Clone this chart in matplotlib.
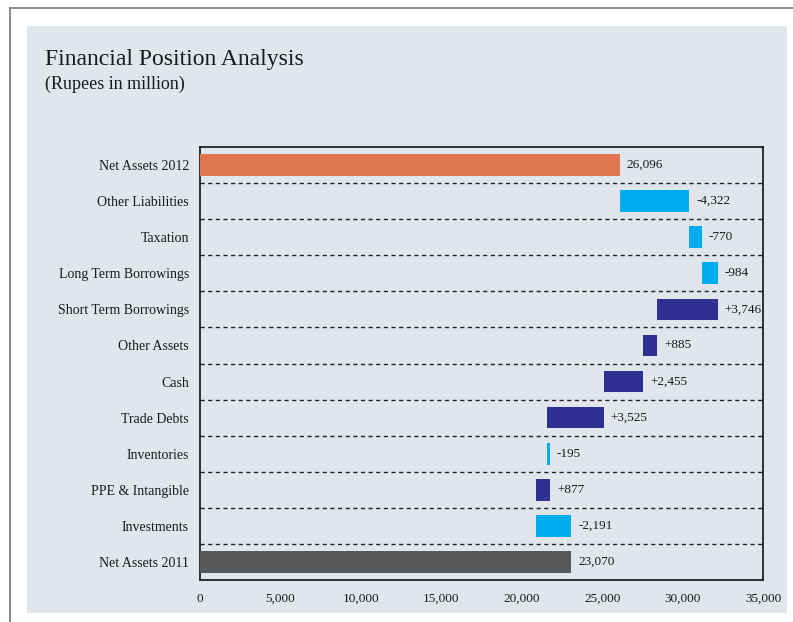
import matplotlib
matplotlib.use("Agg")
import matplotlib.pyplot as plt
from matplotlib.patches import Rectangle
from matplotlib.lines import Line2D
import numpy as np

categories = ["Net Assets 2011", "Investments", "PPE & Intangible", "Inventories",
              "Trade Debts", "Cash", "Other Assets", "Short Term Borrowings",
              "Long Term Borrowings", "Taxation", "Other Liabilities", "Net Assets 2012"]
changes = [23070, -2191, 877, -195, 3525, 2455, 885, 3746, -984, -770, -4322, 26096]
labels = ["23,070", "-2,191", "+877", "-195", "+3,525", "+2,455", "+885", "+3,746",
          "-984", "-770", "-4,322", "26,096"]
xticks = [0, 5000, 10000, 15000, 20000, 25000, 30000, 35000]
xticklabels = ["0", "5,000", "10,000", "15,000", "20,000", "25,000", "30,000", "35,000"]

W, H = 793, 622
fig = plt.figure(figsize=(W / 100, H / 100), dpi=100)
fig.patch.set_facecolor("white")
plt.rcParams["font.family"] = ["Liberation Serif", "DejaVu Serif"]

# outer frame lines
fig.add_artist(Line2D([10 / W, 10 / W], [0, 1 - 8 / H], transform=fig.transFigure, color="#777777", lw=1.2))
fig.add_artist(Line2D([10 / W, 1], [1 - 8 / H, 1 - 8 / H], transform=fig.transFigure, color="#777777", lw=1.2))
# panel
fig.add_artist(Rectangle((27 / W, 1 - 613 / H), (787 - 27) / W, (613 - 26) / H,
                         transform=fig.transFigure, facecolor="#E1E5EC", edgecolor="none", zorder=0))

fig.text(45 / W, 1 - 60 / H, "Financial Position Analysis", fontsize=17, color="#1a1a1a", va="center")
fig.text(45 / W, 1 - 84 / H, "(Rupees in million)", fontsize=13, color="#1a1a1a", va="center")

ax_l, ax_r, ax_t, ax_b = 200, 763, 147, 580
ax = fig.add_axes([ax_l / W, 1 - ax_b / H, (ax_r - ax_l) / W, (ax_b - ax_t) / H])
ax.set_facecolor("none")

n = len(categories)
lefts, widths, colors = [], [], []
running = 0
for i, v in enumerate(changes):
    if i == 0:
        lefts.append(0); widths.append(v); colors.append("#58595B"); running = v
    elif i == n - 1:
        lefts.append(0); widths.append(v); colors.append("#E07650")
    else:
        new = running + v
        lefts.append(min(running, new)); widths.append(abs(v))
        colors.append("#2E3192" if v > 0 else "#00AEEF")
        running = new

y = np.arange(n)
ax.barh(y, widths, left=lefts, height=0.6, color=colors, zorder=3)
for i in range(n):
    ax.annotate(labels[i], xy=(lefts[i] + widths[i], y[i]), xytext=(5, 0),
                textcoords="offset points", va="center", ha="left",
                fontsize=9.5, color="#1a1a1a")
for k in range(n - 1):
    ax.axhline(k + 0.5, color="#222222", lw=1, ls=(0, (3, 2.5)), zorder=2)

ax.set_xlim(0, 35000)
ax.set_ylim(-0.5, n - 0.5)
ax.set_yticks(y)
ax.set_yticklabels(categories, fontsize=10, color="#1a1a1a")
ax.set_xticks(xticks)
ax.set_xticklabels(xticklabels, fontsize=9.5, color="#1a1a1a")
ax.tick_params(axis="y", length=0, pad=8)
ax.tick_params(axis="x", length=0, pad=9)
for s in ax.spines.values():
    s.set_color("#111111"); s.set_linewidth(1.2)

fig.savefig("out.png", dpi=100)
